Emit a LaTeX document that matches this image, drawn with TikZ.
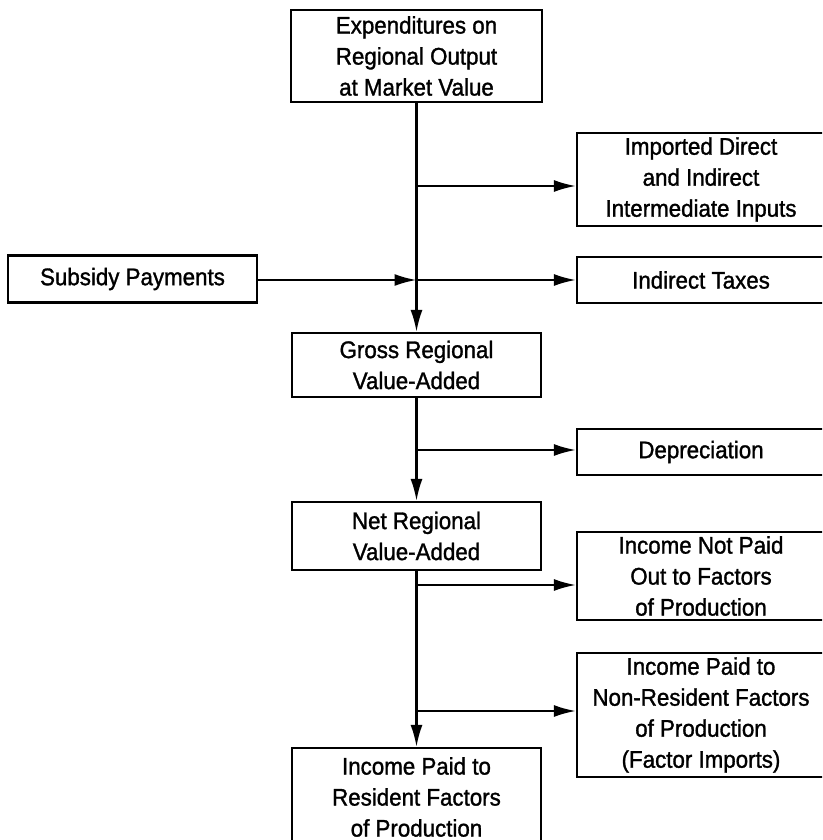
\documentclass[tikz,border=0pt]{standalone}
\usepackage{fontspec}
\setmainfont{Liberation Sans}[FakeBold=1.3, FakeStretch=0.93]
\usetikzlibrary{arrows.meta}
\tikzset{
  box/.style={draw, line width=2.2pt, inner sep=0pt, align=center,
    font=\fontsize{24}{31}\selectfont},
  conn/.style={line width=2.2pt},
  arr/.style={conn, -{Latex[length=22pt,width=12pt]}},
}
\begin{document}
\begin{tikzpicture}[x=1pt,y=-1pt]
\useasboundingbox (0,0) rectangle (822,840);
\clip (0,0) rectangle (822,840);
\node[box, minimum width=251pt, minimum height=92pt] (top) at (416.5,56) {Expenditures on\\Regional Output\\at Market Value};
\node[box, minimum width=248pt, minimum height=93pt] (imp) at (701,179.5) {Imported Direct\\and Indirect\\Intermediate Inputs};
\node[box, minimum width=248pt, minimum height=46pt] (tax) at (701,280) {Indirect Taxes};
\node[box, minimum width=249pt, minimum height=47pt] (sub) at (132.5,279) {Subsidy Payments};
\node[box, minimum width=249pt, minimum height=64pt] (gross) at (416.5,365) {Gross Regional\\Value-Added};
\node[box, minimum width=248pt, minimum height=46pt] (dep) at (701,452) {Depreciation};
\node[box, minimum width=249pt, minimum height=68pt] (net) at (416.5,536) {Net Regional\\Value-Added};
\node[box, minimum width=248pt, minimum height=88pt] (notpaid) at (701,576) {Income Not Paid\\Out to Factors\\of Production};
\node[box, minimum width=248pt, minimum height=124pt] (nonres) at (701,715) {Income Paid to\\Non-Resident Factors\\of Production\\(Factor Imports)};
\node[box, minimum width=249pt, minimum height=98pt] (res) at (416.5,797) {Income Paid to\\Resident Factors\\of Production};

\coordinate (b1) at (416.5,186);
\coordinate (b2) at (416.5,280);
\coordinate (b3) at (416.5,450);
\coordinate (b4) at (416.5,585);
\coordinate (b5) at (416.5,711);

\draw[arr] (top.south) -- (gross.north);
\draw[arr] (b1) -- (b1 -| imp.west);
\draw[arr] (sub.east |- b2) -- (b2);
\draw[arr] (b2) -- (b2 -| tax.west);
\draw[arr] (gross.south) -- (net.north);
\draw[arr] (b3) -- (b3 -| dep.west);
\draw[arr] (net.south) -- (res.north);
\draw[arr] (b4) -- (b4 -| notpaid.west);
\draw[arr] (b5) -- (b5 -| nonres.west);
\end{tikzpicture}
\end{document}
